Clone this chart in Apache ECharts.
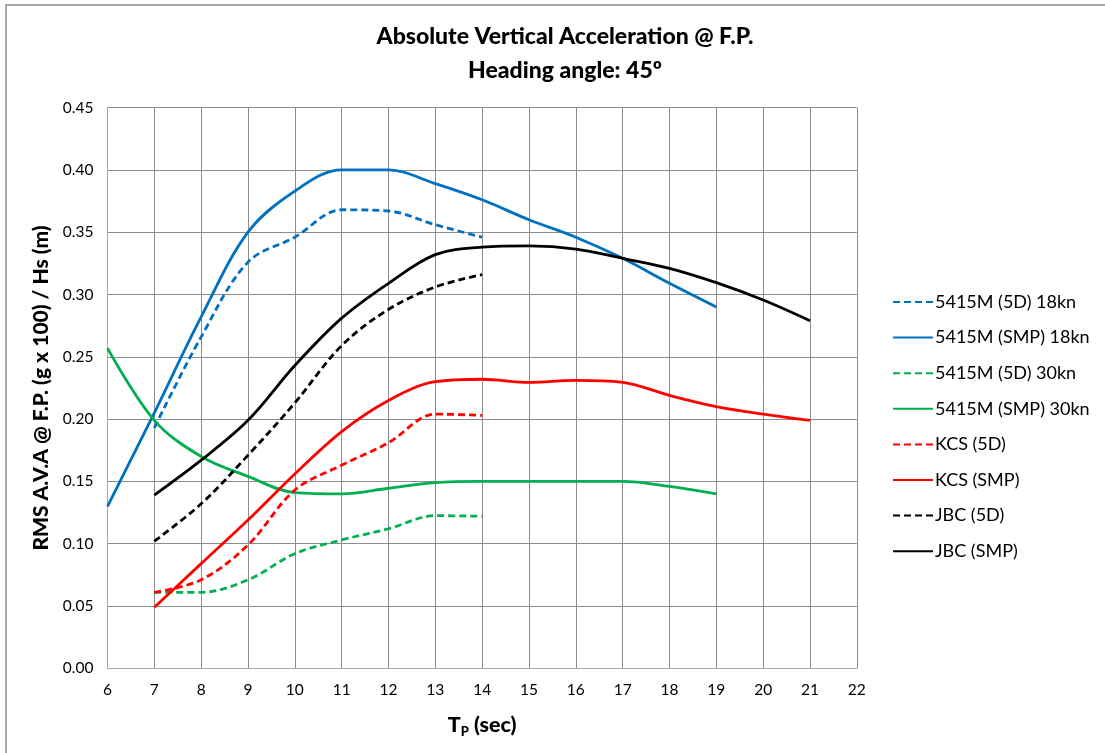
<!DOCTYPE html>
<html>
<head>
<meta charset="utf-8">
<script src="https://cdn.jsdelivr.net/npm/echarts@6/dist/echarts.min.js"></script>
<style>
  html, body { margin: 0; padding: 0; background: #fff; }
  #chart { width: 1105px; height: 753px; }
</style>
</head>
<body>
<div id="chart"></div>
<script>
// Wave peak period (s) for each data set
const tpA = [7, 8, 9, 10, 11, 12, 13, 14];
const tpB = [6, 7, 8, 9, 10, 11, 12, 13, 14, 15, 16, 17, 18, 19];
const tpC = [7, 8, 9, 10, 11, 12, 13, 14, 15, 16, 17, 18, 19, 20, 21];

// RMS absolute vertical acceleration at F.P. per metre of Hs
const s5415m5d18 = [0.193, 0.266, 0.326, 0.346, 0.368, 0.367, 0.356, 0.346];
const s5415mSmp18 = [0.130, 0.205, 0.282, 0.350, 0.383, 0.400, 0.400, 0.389, 0.376, 0.360, 0.346, 0.329, 0.309, 0.290];
const s5415m5d30 = [0.061, 0.061, 0.071, 0.092, 0.103, 0.112, 0.1225, 0.122];
const s5415mSmp30 = [0.257, 0.199, 0.170, 0.154, 0.141, 0.140, 0.1445, 0.149, 0.150, 0.150, 0.150, 0.150, 0.146, 0.140];
const kcs5d = [0.061, 0.071, 0.099, 0.143, 0.163, 0.181, 0.204, 0.203];
const kcsSmp = [0.049, 0.084, 0.119, 0.156, 0.190, 0.215, 0.230, 0.232, 0.2295, 0.231, 0.2295, 0.219, 0.210, 0.204, 0.199];
const jbc5d = [0.102, 0.132, 0.171, 0.213, 0.259, 0.288, 0.306, 0.316];
const jbcSmp = [0.139, 0.167, 0.199, 0.243, 0.281, 0.309, 0.332, 0.338, 0.339, 0.3365, 0.329, 0.321, 0.3095, 0.2956, 0.279];

const seriesNames = [
  '5415M (5D) 18kn', '5415M (SMP) 18kn', '5415M (5D) 30kn', '5415M (SMP) 30kn',
  'KCS (5D)', 'KCS (SMP)', 'JBC (5D)', 'JBC (SMP)'
];

const FONT = 'Lato';
const DASH = [7, 4];

function pairs(xs, ys) { return xs.map((x, i) => [x, ys[i]]); }

function line(name, xs, ys, color, dashed) {
  return {
    name: name,
    type: 'line',
    data: pairs(xs, ys),
    smooth: 0.35,
    showSymbol: false,
    symbol: 'none',
    lineStyle: { color: color, width: 2.8, type: dashed ? DASH : 'solid' },
    itemStyle: { color: color },
    emphasis: { disabled: true }
  };
}

const chart = echarts.init(document.getElementById('chart'), null, { renderer: 'canvas' });

chart.setOption({
  animation: false,
  backgroundColor: '#fff',
  textStyle: { fontFamily: FONT },
  graphic: [{
    type: 'rect',
    shape: { x: 6, y: 5, width: 1110, height: 760 },
    style: { fill: 'none', stroke: '#8c8c8c', lineWidth: 1.5 },
    silent: true
  }],
  title: {
    text: 'Absolute Vertical Acceleration @ F.P.\nHeading angle: 45º',
    left: 560,
    textAlign: 'center',
    top: 15,
    textStyle: { fontFamily: FONT, fontWeight: 900, fontSize: 23, lineHeight: 34, color: '#000' }
  },
  legend: {
    orient: 'vertical',
    left: 887,
    top: 288,
    itemWidth: 40,
    itemHeight: 16,
    itemGap: 17.6,
    data: seriesNames,
    itemStyle: { opacity: 0 },
    textStyle: { fontFamily: FONT, fontSize: 18, color: '#000', padding: [0, 0, 0, -3] }
  },
  grid: { left: 107.5, top: 107.6, width: 749.3, height: 560.7, containLabel: false },
  xAxis: {
    type: 'value',
    min: 6, max: 22, interval: 1,
    name: '{t|T}{s|P}{t| (sec)}',
    nameLocation: 'middle',
    nameGap: 44,
    nameTextStyle: {
      rich: {
        t: { fontFamily: FONT, fontWeight: 900, fontSize: 21.5, color: '#000' },
        s: { fontFamily: FONT, fontWeight: 900, fontSize: 13, color: '#000', padding: [13, 0, 0, 0] }
      }
    },
    axisLine: { lineStyle: { color: '#a6a6a6', width: 1 } },
    axisTick: { show: false },
    axisLabel: { fontFamily: FONT, fontSize: 15.5, color: '#000', margin: 14 },
    splitLine: { show: true, lineStyle: { color: '#8c8c8c', width: 1 } }
  },
  yAxis: {
    type: 'value',
    min: 0, max: 0.45, interval: 0.05,
    name: 'RMS A.V.A @ F.P. (g x 100) / Hs (m)',
    nameLocation: 'middle',
    nameGap: 56,
    nameTextStyle: { fontFamily: FONT, fontWeight: 900, fontSize: 21, color: '#000' },
    axisLine: { show: true, lineStyle: { color: '#a6a6a6', width: 1 } },
    axisTick: { show: false },
    axisLabel: { fontFamily: FONT, fontSize: 15.5, color: '#000', margin: 14, formatter: v => v.toFixed(2) },
    splitLine: { show: true, lineStyle: { color: '#8c8c8c', width: 1 } }
  },
  series: [
    line(seriesNames[0], tpA, s5415m5d18, '#0070C0', true),
    line(seriesNames[1], tpB, s5415mSmp18, '#0070C0', false),
    line(seriesNames[2], tpA, s5415m5d30, '#00B050', true),
    line(seriesNames[3], tpB, s5415mSmp30, '#00B050', false),
    line(seriesNames[4], tpA, kcs5d, '#FF0000', true),
    line(seriesNames[5], tpC, kcsSmp, '#FF0000', false),
    line(seriesNames[6], tpA, jbc5d, '#000000', true),
    line(seriesNames[7], tpC, jbcSmp, '#000000', false)
  ]
});
</script>
</body>
</html>
